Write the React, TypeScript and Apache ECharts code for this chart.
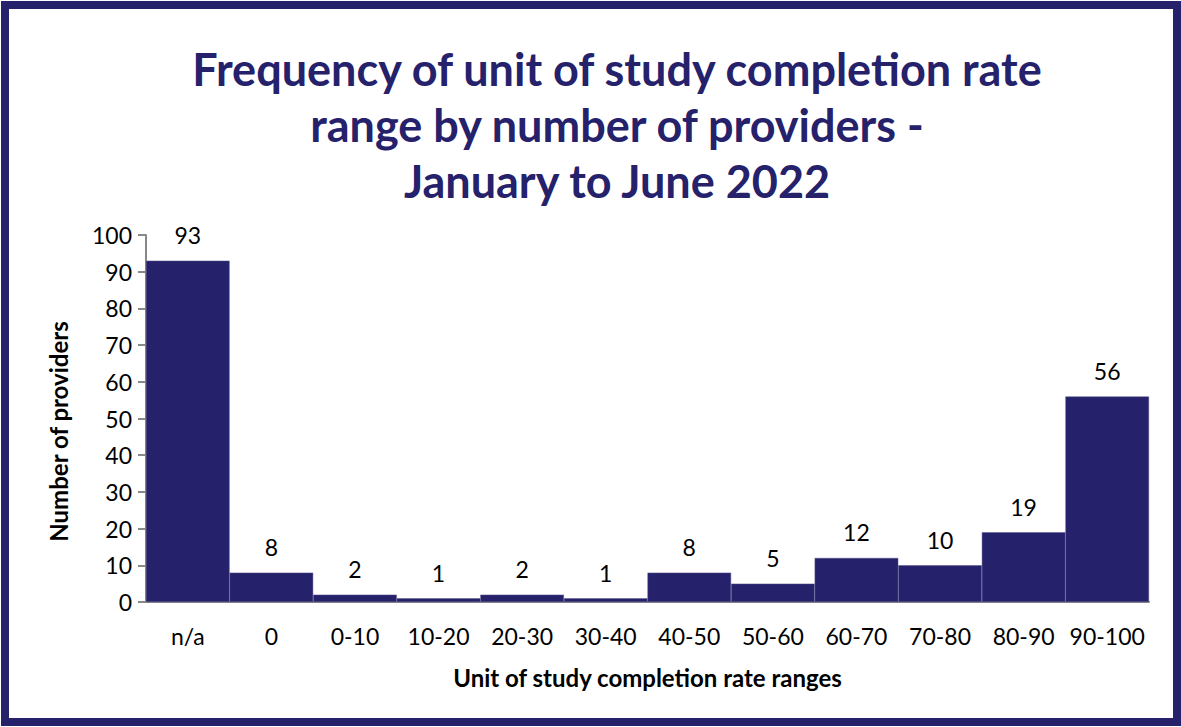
import React, { useEffect, useRef } from "react";
import * as echarts from "echarts";

const categories = ["n/a", "0", "0-10", "10-20", "20-30", "30-40", "40-50", "50-60", "60-70", "70-80", "80-90", "90-100"];
const providers = [93, 8, 2, 1, 2, 1, 8, 5, 12, 10, 19, 56];
const titleLines = ["Frequency of unit of study completion rate", "range by number of providers -", "January to June 2022"];

const NAVY = "#25216B";
const FONT = "Lato, 'Open Sans', sans-serif";

export default function App() {
  const ref = useRef<HTMLDivElement>(null);
  useEffect(() => {
    if (!ref.current) return;
    const chart = echarts.init(ref.current, null, { renderer: "svg" });
    chart.setOption({
      animation: false,
      backgroundColor: "#fff",
      textStyle: { fontFamily: FONT },
      title: {
        text: titleLines.join("\n"),
        left: 612,
        textAlign: "center",
        top: 36,
        textStyle: { fontFamily: FONT, fontWeight: "bold", fontSize: 45, lineHeight: 56, color: NAVY },
      },
      graphic: [
        {
          type: "rect",
          shape: { x: 5, y: 5, width: 1172, height: 717 },
          style: { fill: "none", stroke: NAVY, lineWidth: 8 },
          silent: true,
        },
      ],
      grid: { left: 146, right: 32, top: 235, bottom: 125 },
      xAxis: {
        type: "category",
        data: categories,
        axisLine: { show: true, lineStyle: { color: "#888", width: 2 } },
        axisTick: { show: false },
        axisLabel: { color: "#000", fontSize: 23, fontFamily: FONT, margin: 22, interval: 0 },
        name: "Unit of study completion rate ranges",
        nameLocation: "middle",
        nameGap: 63,
        nameTextStyle: { color: "#000", fontSize: 24, fontWeight: "bold", fontFamily: FONT },
      },
      yAxis: {
        type: "value",
        min: 0,
        max: 100,
        interval: 10,
        splitLine: { show: false },
        axisLine: { show: true, lineStyle: { color: "#888", width: 2 } },
        axisTick: { show: true, length: 8, lineStyle: { color: "#888", width: 2 } },
        axisLabel: { color: "#000", fontSize: 23, fontFamily: FONT, margin: 14 },
        name: "Number of providers",
        nameLocation: "middle",
        nameGap: 76,
        nameTextStyle: { color: "#000", fontSize: 24, fontWeight: "bold", fontFamily: FONT, padding: [0, 0, 0, -26] },
      },
      series: [
        {
          type: "bar",
          data: providers,
          barCategoryGap: "0%",
          itemStyle: { color: NAVY, borderColor: "#5a578f", borderWidth: 0.5 },
          label: { show: true, position: "top", distance: 14, color: "#000", fontSize: 23, fontFamily: FONT },
        },
      ],
    });
    return () => chart.dispose();
  }, []);
  return <div ref={ref} style={{ position: "absolute", left: 0, top: 0, width: 1181, height: 727 }} />;
}
